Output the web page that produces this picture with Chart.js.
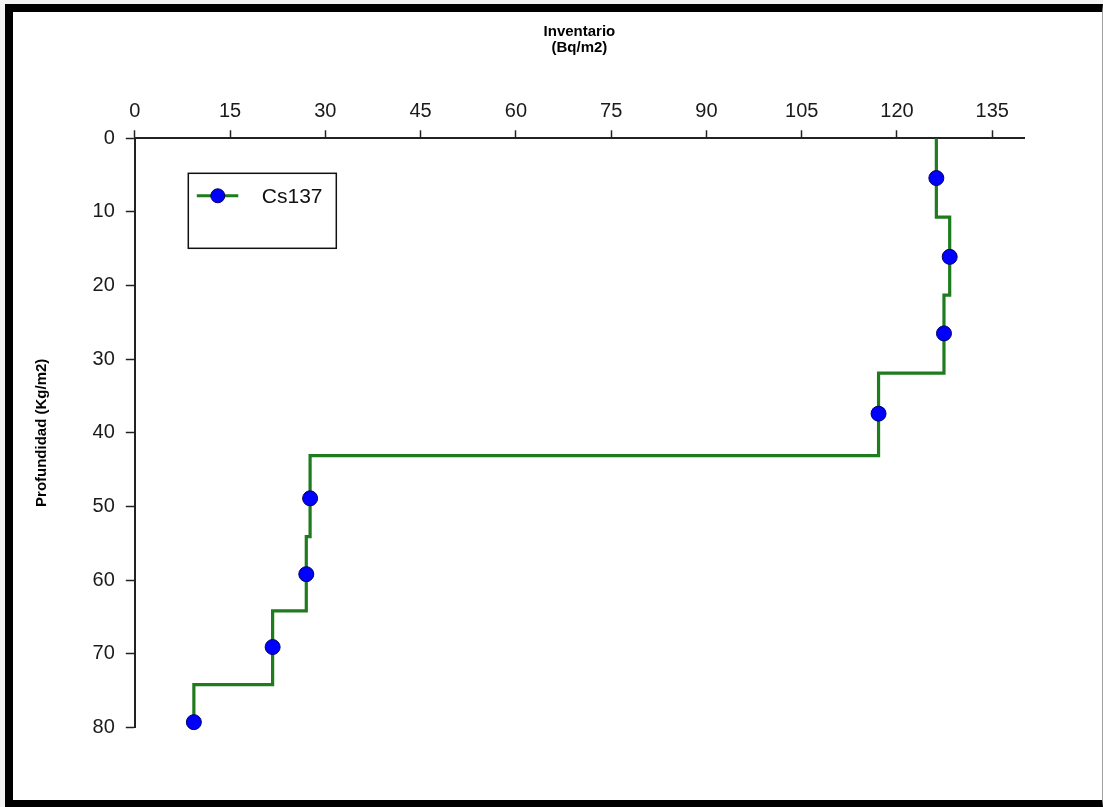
<!DOCTYPE html>
<html>
<head>
<meta charset="utf-8">
<script src="https://cdn.jsdelivr.net/npm/chart.js@4.4.1/dist/chart.umd.min.js"></script>
<style>
  html, body { margin: 0; padding: 0; background: #f3f3f3; }
  #frame {
    position: absolute; left: 5px; top: 4px; width: 1089px; height: 788px;
    border-top: 8px solid #000; border-left: 8px solid #000;
    border-bottom: 7px solid #000; border-right: 1px solid #a0a0a0;
    background: #fff;
  }
  canvas { display: block; }
</style>
</head>
<body>
<div id="frame"><canvas id="perfil" width="1088" height="788"></canvas></div>
<script>
// Cs137 inventario por capa (Bq/m2) y profundidad másica (Kg/m2)
const inventario = [126.2, 128.3, 127.4, 117.1, 27.6, 27.0, 21.7, 9.3];
const profundidad = [5.4, 16.1, 26.5, 37.4, 48.9, 59.2, 69.1, 79.3];
// techo de cada capa (donde cambia el escalón)
const techoCapa = [0, 10.7, 21.3, 31.9, 43.1, 54.1, 64.2, 74.2];
const xTicks = [0, 15, 30, 45, 60, 75, 90, 105, 120, 135];

const verde = '#1e7b1e';
const azul = '#0000ff';
const fuente = '"Liberation Sans", Arial, sans-serif';

const puntos = inventario.map((v, i) => ({x: v, y: profundidad[i]}));
const escalones = inventario.map((v, i) => ({x: v, y: techoCapa[i]}));
escalones.push({x: inventario[inventario.length - 1], y: profundidad[profundidad.length - 1]});

// leyenda con recuadro, dentro del área de trazado
const leyendaCaja = {
    id: 'leyendaCaja',
    afterDraw(chart) {
        const ctx = chart.ctx;
        const a = chart.chartArea;
        const ds = chart.data.datasets[0];
        const x0 = a.left + 53.5, y0 = a.top + 35;
        ctx.save();
        ctx.strokeStyle = '#111';
        ctx.lineWidth = 1.5;
        ctx.strokeRect(x0, y0, 148, 75);
        ctx.strokeStyle = verde;
        ctx.lineWidth = 3;
        ctx.beginPath();
        ctx.moveTo(x0 + 8.5, y0 + 22.5);
        ctx.lineTo(x0 + 50, y0 + 22.5);
        ctx.stroke();
        ctx.beginPath();
        ctx.arc(x0 + 29.5, y0 + 22.5, 7, 0, Math.PI * 2);
        ctx.fillStyle = azul;
        ctx.fill();
        ctx.strokeStyle = '#000060';
        ctx.lineWidth = 1;
        ctx.stroke();
        ctx.fillStyle = '#111';
        ctx.font = '21px ' + fuente;
        ctx.textBaseline = 'middle';
        ctx.fillText(ds.label, x0 + 73.5, y0 + 24);
        ctx.restore();
    }
};

new Chart(document.getElementById('perfil'), {
    type: 'line',
    data: {
        datasets: [{
            label: 'Cs137',
            data: puntos,
            showLine: false,
            clip: false,
            pointRadius: 7.5,
            pointHoverRadius: 7.5,
            pointBackgroundColor: azul,
            pointBorderColor: '#000060',
            pointBorderWidth: 1,
            order: 0
        }, {
            label: 'escalones',
            data: escalones,
            stepped: 'after',
            borderColor: verde,
            borderWidth: 3.2,
            pointRadius: 0,
            fill: false,
            order: 1
        }]
    },
    options: {
        responsive: false,
        animation: false,
        layout: { padding: { left: 0, top: 0, right: 77, bottom: 72.7 } },
        plugins: { legend: { display: false }, tooltip: { enabled: false } },
        scales: {
            x: {
                type: 'linear',
                position: 'top',
                min: 0,
                max: 140,
                afterBuildTicks: (s) => { s.ticks = xTicks.map(v => ({value: v})); },
                afterFit: (s) => { s.height = 126.3; },
                ticks: { font: { family: fuente, size: 20 }, color: '#1a1a1a', padding: 7 },
                grid: { drawOnChartArea: false, tickLength: 8, tickColor: '#222', tickWidth: 1.5 },
                border: { display: true, color: '#222', width: 2 },
                title: {
                    display: true,
                    text: ['Inventario', '(Bq/m2)'],
                    font: { family: fuente, size: 15, weight: 'bold', lineHeight: 1.1 },
                    color: '#000',
                    padding: { top: 11.5, bottom: 0 }
                }
            },
            y: {
                type: 'linear',
                reverse: true,
                min: 0,
                max: 80,
                afterFit: (s) => { s.width = 121.8; },
                ticks: { stepSize: 10, font: { family: fuente, size: 20 }, color: '#1a1a1a', padding: 11 },
                grid: { drawOnChartArea: false, tickLength: 9, tickColor: '#222', tickWidth: 1.5 },
                border: { display: true, color: '#222', width: 2 },
                title: {
                    display: true,
                    text: 'Profundidad (Kg/m2)',
                    font: { family: fuente, size: 15, weight: 'bold', lineHeight: 1.1 },
                    color: '#000',
                    padding: { top: 20.7, bottom: 0 }
                }
            }
        }
    },
    plugins: [leyendaCaja]
});
</script>
</body>
</html>
